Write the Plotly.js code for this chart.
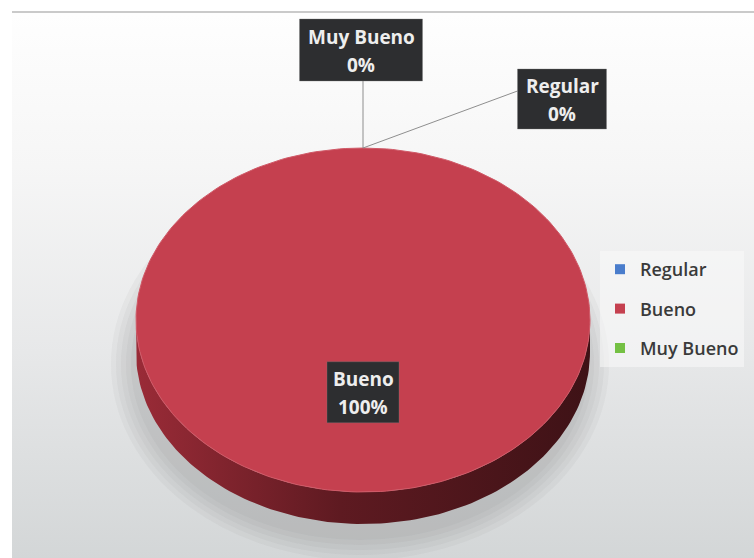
<!DOCTYPE html>
<html>
<head>
<meta charset="utf-8">
<script src="https://cdn.plot.ly/plotly-3.0.1.min.js"></script>
<style>
  html, body { margin: 0; padding: 0; background: #ffffff; }
  #frame {
    position: absolute; left: 12px; top: 11px; width: 742px; height: 547px;
    border-top: 2px solid #cacaca;
    background: linear-gradient(to bottom, #fefefe 0%, #f6f6f6 28%, #e7e8e9 62%, #d3d6d7 100%);
  }
  #chart { position: absolute; left: 0; top: 0; width: 754px; height: 558px; }
</style>
</head>
<body>
<div id="frame"></div>
<div id="chart"></div>
<script>
// Survey rating distribution
const categories = ['Regular', 'Bueno', 'Muy Bueno'];
const values = [0, 100, 0];
const sliceColors = ['#4a7dcc', '#c5404f', '#74c043'];
const sideColors = [
  [[0, '#2e4f85'], [0.5, '#1f3760'], [1, '#172a4a']],
  [[0, '#9a2b37'], [0.45, '#5e1a21'], [1, '#3e1216']],
  [[0, '#4d7d26'], [0.5, '#365a1a'], [1, '#284513']]
];

// Pie geometry (pixel space of the plot area)
const PIE = { cx: 363, cy: 320, rx: 227, ry: 172, depth: 32, innerLabel: 0.42 };
// Label boxes: inside box size, and outside boxes for small slices (centre, size, leader side)
const INSIDE_BOX = { w: 72, h: 61 };
const OUTSIDE = {
  'Muy Bueno': { x: 361, y: 50, w: 123, h: 62, attach: 'bottom' },
  'Regular':   { x: 562, y: 99, w: 89,  h: 60, attach: 'left' }
};

const total = values.reduce((a, b) => a + b, 0);
const deg = Math.PI / 180;
// t measured clockwise from 12 o'clock
function pt(t, dy) {
  return [PIE.cx + PIE.rx * Math.sin(t * deg), PIE.cy - PIE.ry * Math.cos(t * deg) + (dy || 0)];
}
function arc(t0, t1, dy) {
  const n = Math.max(2, Math.ceil(Math.abs(t1 - t0) / 1.5));
  const out = [];
  for (let i = 0; i <= n; i++) out.push(pt(t0 + (t1 - t0) * i / n, dy));
  return out;
}

const traces = [];
const annotations = [];
const shapes = [];

// soft shadow under the disc
for (let k = 0; k < 5; k++) {
  const rx = PIE.rx + 2 + k * 5, ry = PIE.ry + 4 + k * 5;
  const cx = PIE.cx - 3, cy = PIE.cy + 44;
  shapes.push({
    type: 'circle', xref: 'x', yref: 'y', layer: 'below',
    x0: cx - rx, x1: cx + rx, y0: cy - ry, y1: cy + ry,
    fillcolor: 'rgba(90,95,100,0.05)', line: { width: 0 }
  });
}

let start = 0;
const slices = values.map((v, i) => {
  const sweep = total ? v / total * 360 : 0;
  const s = { i, t0: start, t1: start + sweep, mid: start + sweep / 2 };
  start += sweep;
  return s;
});

// front wall of the disc
slices.forEach(s => {
  const a = Math.max(s.t0, 90), b = Math.min(s.t1, 270);
  if (b - a <= 0) return;
  const top = arc(a, b, 0);
  const bottom = arc(b, a, PIE.depth);
  const poly = top.concat(bottom);
  poly.push(top[0]);
  traces.push({
    type: 'scatter', mode: 'lines', showlegend: false, hoverinfo: 'skip',
    x: poly.map(p => p[0]), y: poly.map(p => p[1]),
    fill: 'toself', line: { width: 0 },
    fillgradient: { type: 'horizontal', colorscale: sideColors[s.i] }
  });
});

// top face slices
slices.forEach(s => {
  if (s.t1 - s.t0 <= 0) return;
  const edge = arc(s.t0, s.t1, 0);
  const poly = (s.t1 - s.t0 >= 359.999) ? edge : [[PIE.cx, PIE.cy]].concat(edge, [[PIE.cx, PIE.cy]]);
  traces.push({
    type: 'scatter', mode: 'lines', showlegend: false, hoverinfo: 'skip',
    x: poly.map(p => p[0]), y: poly.map(p => p[1]),
    fill: 'toself', fillcolor: sliceColors[s.i], line: { width: 1, color: '#d05a68' }
  });
});

// legend entries
categories.forEach((c, i) => {
  traces.push({
    type: 'scatter', mode: 'markers', name: c, legendgroup: c,
    x: [null], y: [null],
    marker: { symbol: 'square', size: 10, color: sliceColors[i] }
  });
});

// data labels: dark box with name and percentage on two lines
const boxFont = { family: 'Open Sans, sans-serif', size: 19, color: '#eeeeee', weight: 700 };
function labelBox(cx, cy, w, h, name, pct) {
  shapes.push({
    type: 'rect', xref: 'x', yref: 'y', layer: 'above',
    x0: cx - w / 2, x1: cx + w / 2, y0: cy - h / 2, y1: cy + h / 2,
    fillcolor: '#2d2e30', line: { width: 1, color: 'rgba(120,120,120,0.35)' }
  });
  annotations.push({ x: cx, y: cy - 13, xref: 'x', yref: 'y', text: name, showarrow: false, font: boxFont });
  annotations.push({ x: cx, y: cy + 15, xref: 'x', yref: 'y', text: pct, showarrow: false, font: boxFont });
}

slices.forEach(s => {
  const name = categories[s.i];
  const pct = Math.round(values[s.i] / total * 100) + '%';
  if (s.t1 - s.t0 > 30) {
    const r = PIE.innerLabel;
    const x = PIE.cx + r * PIE.rx * Math.sin(s.mid * deg);
    const y = PIE.cy - r * PIE.ry * Math.cos(s.mid * deg);
    labelBox(x, y, INSIDE_BOX.w, INSIDE_BOX.h, name, pct);
  } else {
    const o = OUTSIDE[name];
    const anchor = pt(s.mid, 0);
    let end;
    if (o.attach === 'bottom') end = [anchor[0], o.y + o.h / 2];
    else end = [o.x - o.w / 2, o.y - 8];
    shapes.push({
      type: 'line', xref: 'x', yref: 'y', layer: 'above',
      x0: anchor[0], y0: anchor[1], x1: end[0], y1: end[1],
      line: { color: '#8e8e8e', width: 1 }
    });
    labelBox(o.x, o.y, o.w, o.h, name, pct);
  }
});

const layout = {
  width: 754, height: 558,
  margin: { l: 0, r: 0, t: 0, b: 0 },
  paper_bgcolor: 'rgba(0,0,0,0)', plot_bgcolor: 'rgba(0,0,0,0)',
  xaxis: { range: [0, 754], visible: false, fixedrange: true },
  yaxis: { range: [558, 0], visible: false, fixedrange: true },
  showlegend: true,
  legend: {
    x: 600 / 754, y: 1 - 251 / 558, xanchor: 'left', yanchor: 'top',
    bgcolor: 'rgba(250,250,250,0.55)', borderwidth: 0,
    font: { family: 'Open Sans, sans-serif', size: 18, color: '#3a3a3a', weight: 600 },
    traceorder: 'grouped', tracegroupgap: 13, itemwidth: 30
  },
  shapes: shapes,
  annotations: annotations
};

Plotly.newPlot('chart', traces, layout, { displayModeBar: false, staticPlot: true });
</script>
</body>
</html>
